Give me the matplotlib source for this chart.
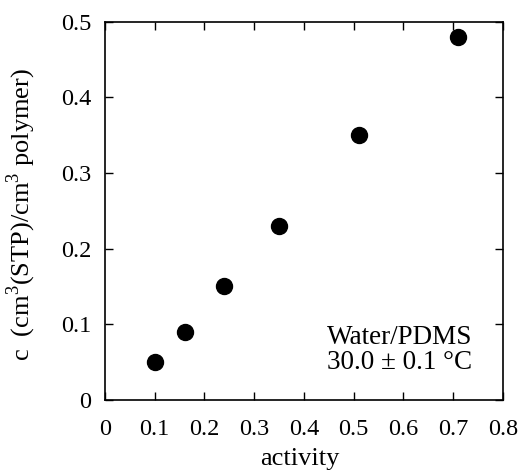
import matplotlib
matplotlib.use("Agg")
import matplotlib.pyplot as plt

activity = [0.10, 0.16, 0.24, 0.35, 0.51, 0.71]
conc = [0.05, 0.09, 0.15, 0.23, 0.35, 0.48]
xticks = [0, 0.1, 0.2, 0.3, 0.4, 0.5, 0.6, 0.7, 0.8]
xticklabels = ["0", "0.1", "0.2", "0.3", "0.4", "0.5", "0.6", "0.7", "0.8"]
yticks = [0, 0.1, 0.2, 0.3, 0.4, 0.5]
yticklabels = ["0", "0.1", "0.2", "0.3", "0.4", "0.5"]

plt.rcParams['font.family'] = ['Liberation Serif', 'DejaVu Serif']
plt.rcParams['mathtext.fontset'] = 'custom'
plt.rcParams['mathtext.rm'] = 'Liberation Serif'

fig = plt.figure(figsize=(5.18, 4.72), dpi=100)
ax = fig.add_axes([0.2027, 0.1525, 0.7683, 0.8019])
ax.plot(activity, conc, 'o', color='black', markersize=11.5, clip_on=False)
ax.set_xlim(0, 0.8)
ax.set_ylim(0, 0.5)
ax.set_xticks(xticks)
ax.set_xticklabels(xticklabels)
ax.set_yticks(yticks)
ax.set_yticklabels(yticklabels)
ax.tick_params(direction='in', top=True, right=True, length=6, width=1,
               labelsize=17.5)
ax.tick_params(axis='y', pad=10)
ax.tick_params(axis='x', pad=14)
for s in ax.spines.values():
    s.set_linewidth(1.2)
ax.set_xlabel('activity', fontsize=19)
ax.xaxis.set_label_coords(0.49, -0.128)
ax.set_ylabel(r'c  (cm$^3$(STP)/cm$^3$ polymer)', fontsize=19)
ax.yaxis.set_label_coords(-0.168, 0.49)
ax.text(0.593, 0.0832, 'Water/PDMS', fontsize=19.5, ha='center', va='center')
ax.text(0.593, 0.050, '30.0 ± 0.1 °C', fontsize=19.5, ha='center', va='center')
fig.savefig('out.png', dpi=100)
